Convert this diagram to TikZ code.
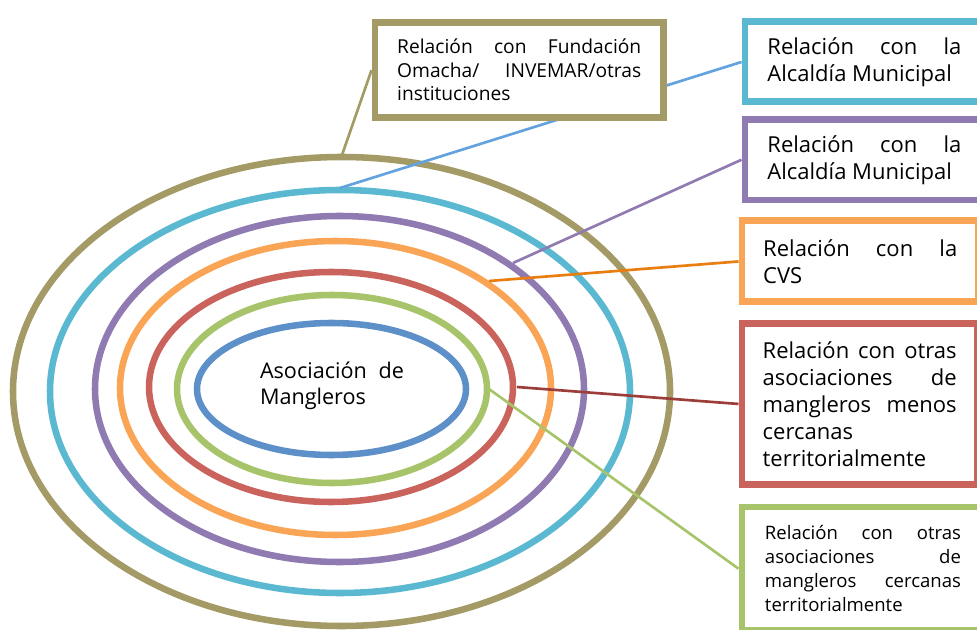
\documentclass[tikz,border=0pt]{standalone}
\usepackage{fontspec}
\setmainfont{Open Sans}
\definecolor{olv}{HTML}{A39A66}
\definecolor{cyn}{HTML}{5BB8D1}
\definecolor{prp}{HTML}{8F7BB2}
\definecolor{org}{HTML}{FAA555}
\definecolor{orgline}{HTML}{E97D10}
\definecolor{red1}{HTML}{CB635D}
\definecolor{redline}{HTML}{9B3E3A}
\definecolor{grn}{HTML}{A7C46B}
\definecolor{blu}{HTML}{5D90C8}
\definecolor{bluline}{HTML}{63A2DE}
\pgfdeclarelayer{bg}
\pgfsetlayers{bg,main}
\begin{document}
\begin{tikzpicture}[x=0.75pt,y=-0.75pt,
  ell/.style={line width=4.9pt},
  conn/.style={line width=2pt},
  rbox/.style={draw, fill=white, line width=5.2pt, anchor=north west,
    inner ysep=0pt, inner xsep=0pt, align=justify,
    font=\fontsize{16.5pt}{20.25pt}\selectfont, text width=145.5pt}]
\useasboundingbox (0,0) rectangle (977,630);

% boxes
\node[rbox, draw=olv, minimum width=216.4pt, minimum height=71.6pt, text width=183pt,
  font=\fontsize{14.4pt}{17.6pt}\selectfont] (bO) at (371.5,19)
  {Relación con Fundación\linebreak Omacha/ INVEMAR/otras\linebreak instituciones};
\node[rbox, draw=cyn, minimum width=179.25pt, minimum height=60pt] (bC) at (741.5,18.5)
  {Relación con la\linebreak Alcaldía Municipal};
\node[rbox, draw=prp, minimum width=179.25pt, minimum height=60.4pt] (bP) at (741.5,116)
  {Relación con la\linebreak Alcaldía Municipal};
\node[rbox, draw=org, minimum width=177.4pt, minimum height=60.75pt] (bOr) at (738.5,217.5)
  {Relación con la\linebreak CVS};
\node[rbox, draw=red1, minimum width=176.6pt, minimum height=120.75pt, text width=145.5pt] (bR) at (738.5,320)
  {Relación con otras\linebreak asociaciones de\linebreak mangleros menos\linebreak cercanas\\ territorialmente};
\node[rbox, draw=grn, minimum width=181.5pt, minimum height=92.6pt, text width=147pt,
  font=\fontsize{13.9pt}{18pt}\selectfont] (bG) at (738.5,503.5)
  {Relación con otras\linebreak asociaciones de\linebreak mangleros cercanas\linebreak territorialmente};

\node[text width=108pt, align=justify, inner sep=0pt,
  font=\fontsize{16.2pt}{19.5pt}\selectfont] (assoc) at (332,386)
  {Asociación de\linebreak Mangleros};

\coordinate (eO) at (342,155);
\coordinate (eC) at (340,188);
\coordinate (eP) at (513,263);
\coordinate (eOr) at (489,281);
\coordinate (eR) at (517,387);
\coordinate (eG) at (489,389);

\begin{pgfonlayer}{bg}
\draw[ell, olv] (341.5,391.5) ellipse [x radius=328.5, y radius=234.5];
\draw[ell, cyn] (340,391.5) ellipse [x radius=290, y radius=201.5];
\draw[ell, prp] (339.5,389) ellipse [x radius=244.5, y radius=173];
\draw[ell, org] (335.5,388) ellipse [x radius=215.5, y radius=147];
\draw[ell, red1] (331,387) ellipse [x radius=182, y radius=115];
\draw[ell, grn] (332,389) ellipse [x radius=155, y radius=94];
\draw[ell, blu] (331.5,389) ellipse [x radius=134.5, y radius=66];

\draw[conn, olv] (eO) -- (bO.west);
\draw[conn, bluline] (eC) -- (bC.west);
\draw[conn, prp] (eP) -- (bP.west);
\draw[conn, orgline] (eOr) -- (bOr.west);
\draw[conn, redline] (eR) -- (bR.west);
\draw[conn, grn] (eG) -- (bG.west);
\end{pgfonlayer}
\end{tikzpicture}
\end{document}
